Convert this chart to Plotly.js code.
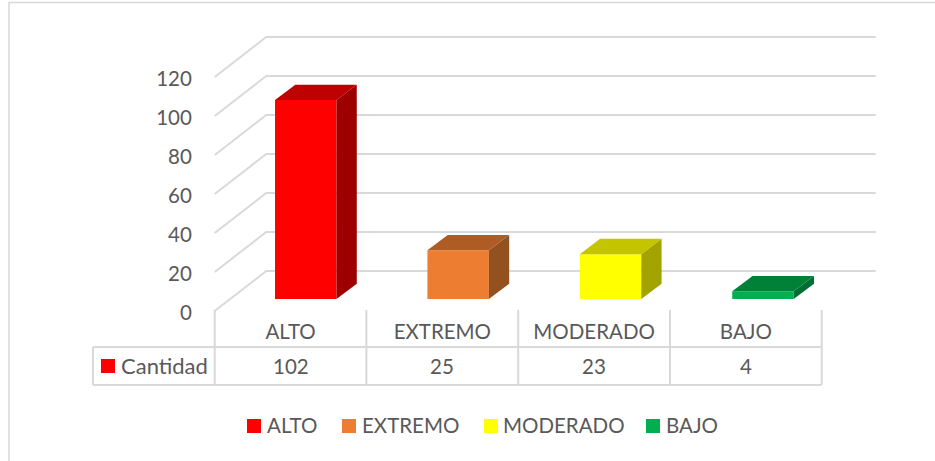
<!DOCTYPE html>
<html>
<head>
<meta charset="utf-8">
<script src="https://cdn.plot.ly/plotly-3.0.1.min.js"></script>
<style>html,body{margin:0;padding:0;background:#fff;overflow:hidden}#chart{width:935px;height:461px}</style>
</head>
<body>
<div id="chart"></div>
<script>
const categories = ["ALTO", "EXTREMO", "MODERADO", "BAJO"];
const cantidad = [102, 25, 23, 4];
const yTicks = [0, 20, 40, 60, 80, 100, 120];
const seriesName = "Cantidad";
const frontColors = ["#FF0000", "#ED7D31", "#FFFF00", "#00B050"];
const sideColors = ["#9E0000", "#945120", "#A3A300", "#006E32"];
const topColors = ["#BF0000", "#AE5B24", "#C4C400", "#008138"];

const FONT = "Lato, Carlito, Calibri, sans-serif";
const TEXT = "#595959", GRID = "#D9D9D9";
const W = 935, H = 461;
const L = 213, R = 880, T = 30, B = 313;
const X0 = 214.7, CAT = 151.75, Y0 = 311, UNIT = 1.95;
const WALL_DU = 51.5 / CAT, WALL_DV = 40 / UNIT;
const BAR_W = 0.405, BAR_C = 0.6, BAR_STEP = 1.0043, BAR_BASE = 12 / UNIT;
const DEPTH_DU = 20.3 / CAT, DEPTH_DV = 15.3 / UNIT;
const xRange = [(L - X0) / CAT, (R - X0) / CAT];
const yRange = [(Y0 - B) / UNIT, (Y0 - T) / UNIT];
const px = p => (p - L) / (R - L);
const py = p => (B - p) / (B - T);

const traces = [];
categories.forEach((c, i) => {
  const xc = i * BAR_STEP + BAR_C;
  const xl = xc - BAR_W / 2, xr = xc + BAR_W / 2;
  const b = BAR_BASE, t = BAR_BASE + cantidad[i];
  traces.push({type: "bar", name: c, x: [xc], y: [cantidad[i]], base: [BAR_BASE], width: [BAR_W],
    marker: {color: frontColors[i], line: {width: 0}}, showlegend: false, hoverinfo: "name", textposition: "none"});
  traces.push({type: "scatter", mode: "lines", fill: "toself", fillcolor: sideColors[i], line: {width: 0}, hoverinfo: "skip", showlegend: false,
    x: [xr, xr + DEPTH_DU, xr + DEPTH_DU, xr, xr], y: [b, b + DEPTH_DV, t + DEPTH_DV, t, b]});
  traces.push({type: "scatter", mode: "lines", fill: "toself", fillcolor: topColors[i], line: {width: 0}, hoverinfo: "skip", showlegend: false,
    x: [xl, xr, xr + DEPTH_DU, xl + DEPTH_DU, xl], y: [t, t, t + DEPTH_DV, t + DEPTH_DV, t]});
});

const shapes = [];
const ln = {color: GRID, width: 2};
yTicks.forEach(v => {
  shapes.push({type: "path", layer: "below", xref: "x", yref: "y", line: ln,
    path: `M${0},${v} L${WALL_DU},${v + WALL_DV} L${(875.7 - X0) / CAT},${v + WALL_DV}`});
});
// table grid
const tableXs = [93, 214.7, 366.4, 518.2, 670, 821.7];
tableXs.forEach((x, i) => {
  shapes.push({type: "line", xref: "paper", yref: "paper", line: {color: GRID, width: 2},
    x0: px(x), x1: px(x), y0: py(i === 0 ? 347 : 310), y1: py(385)});
});
[347, 385].forEach(y => shapes.push({type: "line", xref: "paper", yref: "paper", line: {color: GRID, width: 2},
  x0: px(93), x1: px(821.7), y0: py(y), y1: py(y)}));
// outer frame
shapes.push({type: "path", xref: "paper", yref: "paper", line: {color: GRID, width: 1.5},
  path: `M${px(9)},${py(461)} L${px(9)},${py(2.5)} L${px(935)},${py(2.5)}`});

const square = (x, y, color) => ({type: "rect", xref: "paper", yref: "paper", line: {width: 0}, fillcolor: color,
  x0: px(x), x1: px(x + 14), y0: py(y), y1: py(y + 14)});
shapes.push(square(101, 359, frontColors[0]));

const annotations = [];
const label = (text, xval, yval, anchor, xref, size) => ({text, x: xval, y: yval, xref: xref || "paper", yref: "paper",
  xanchor: anchor, yanchor: "middle", showarrow: false, font: {family: FONT, size: size || 20.5, color: TEXT}});
annotations.push(label(seriesName, px(118.5), py(365), "left", "paper", 22));
categories.forEach((c, i) => {
  annotations.push(label(String(cantidad[i]), i + 0.5, py(366), "center", "x"));
});
const legendSwatch = [247, 342, 484, 646];
const legendText = [264.5, 359.5, 500.5, 663.5];
categories.forEach((c, i) => {
  shapes.push(square(legendSwatch[i], 419, frontColors[i]));
  annotations.push(label(c, px(legendText[i]), py(424.5), "left"));
});

const layout = {
  width: W, height: H, autosize: false,
  margin: {l: L, r: W - R, t: T, b: H - B, pad: 0},
  paper_bgcolor: "#fff", plot_bgcolor: "rgba(0,0,0,0)",
  showlegend: false, barmode: "overlay", hovermode: "closest",
  font: {family: FONT, size: 20.5, color: TEXT},
  xaxis: {range: xRange, showgrid: false, zeroline: false, showline: false, fixedrange: true,
    tickmode: "array", tickvals: categories.map((c, i) => i + 0.5), ticktext: categories,
    ticks: "outside", ticklen: 0.5, tickcolor: "rgba(0,0,0,0)", tickfont: {family: FONT, size: 20.5, color: TEXT}},
  yaxis: {range: yRange, showgrid: false, zeroline: false, showline: false, fixedrange: true,
    tickmode: "array", tickvals: yTicks, ticktext: yTicks.map(String), ticklabelshift: 2,
    ticks: "outside", ticklen: 16, tickcolor: "rgba(0,0,0,0)", tickfont: {family: FONT, size: 20.5, color: TEXT}},
  shapes, annotations
};
Plotly.newPlot("chart", traces, layout, {displayModeBar: false});
</script>
</body>
</html>
